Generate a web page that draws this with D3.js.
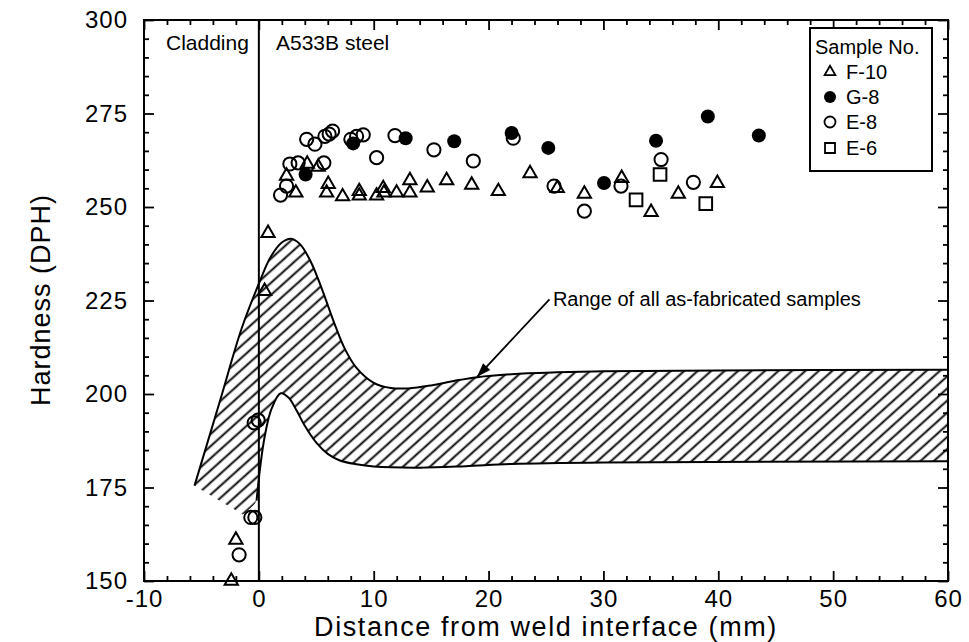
<!DOCTYPE html>
<html><head><meta charset="utf-8">
<script src="https://cdn.jsdelivr.net/npm/d3@7"></script>
<style>
html,body{margin:0;padding:0;background:#fff;}
svg{display:block;font-family:"Liberation Sans",Arial,Helvetica,sans-serif;}
</style></head>
<body>
<svg id="chart" width="969" height="642"></svg>
<script>
// ---------- data ----------
const xTicks = [-10, 0, 10, 20, 30, 40, 50, 60];
const yTicks = [150, 175, 200, 225, 250, 275, 300];

const seriesNames = ["F-10", "G-8", "E-8", "E-6"];

const f10X = [-2.4, -2.0, 0.5, 0.8, 2.41, 3.22, 4.21, 5.17, 6.04, 5.90, 7.29, 8.74, 8.74, 10.25, 10.83, 10.89, 11.99, 13.15, 13.15, 14.66, 16.35, 18.53, 20.85, 23.61, 25.98, 28.34, 31.59, 34.15, 36.52, 39.92];
const f10Y = [150, 161, 227.5, 243, 258.3, 253.8, 261.5, 260.7, 256.1, 253.8, 252.8, 254.2, 253.0, 253.0, 255.0, 253.8, 253.8, 257.1, 253.8, 255.2, 257.1, 255.9, 254.2, 259.0, 255.0, 253.5, 257.7, 248.6, 253.5, 256.4];

const g8X = [4.07, 8.21, 12.78, 17.01, 22.01, 25.20, 30.05, 34.58, 39.09, 43.53];
const g8Y = [258.7, 267.0, 268.4, 267.6, 269.8, 265.8, 256.4, 267.7, 274.2, 269.1];

const e8X = [-1.72, -0.70, -0.35, -0.41, -0.06, 1.89, 2.41, 2.70, 3.42, 4.16, 4.88, 5.66, 5.75, 6.12, 6.42, 8.01, 8.51, 9.09, 10.25, 11.85, 15.24, 18.67, 22.15, 25.70, 28.34, 31.53, 35.02, 37.83];
const e8Y = [157, 167.0, 167.0, 192.3, 193.0, 253.2, 255.6, 261.5, 261.8, 268.1, 266.8, 261.8, 268.9, 269.5, 270.3, 268.1, 268.9, 269.3, 263.2, 269.1, 265.3, 262.3, 268.4, 255.6, 248.9, 255.6, 262.7, 256.6];

const e6X = [32.84, 34.93, 38.91];
const e6Y = [251.9, 258.7, 250.9];

// range band of as-fabricated samples
const bandUpperX = [-5.6, -3.4, -1.5, 0, 1, 2, 2.8, 3.6, 4.5, 5.5, 6.5, 7.5, 8.5, 10, 11.5, 13, 15, 17, 19, 22, 26, 30, 40, 60];
const bandUpperY = [175.5, 198, 217.5, 229.5, 236.5, 240.5, 241.5, 240, 235.5, 228, 219.5, 212, 207, 203, 201.6, 201.5, 202.3, 203.5, 204.5, 205.3, 205.8, 206.1, 206.3, 206.5];
const bandLowerX = [-1.4, -0.2, 0.1, 0.5, 1.1, 1.9, 2.6, 3.3, 4, 5, 6, 7, 8.5, 10, 14, 18, 22, 30, 60];
const bandLowerY = [167.8, 171.5, 180, 188.5, 196, 200.2, 199, 195.5, 191.5, 187, 184, 182.3, 181.2, 180.6, 180.3, 180.7, 181.3, 181.7, 182];

// ---------- layout ----------
const svg = d3.select("#chart");
const L = 144, R = 948, T = 20, B = 581;
const x = d3.scaleLinear().domain([-10, 60]).range([L, R]);
const y = d3.scaleLinear().domain([150, 300]).range([B, T]);

const xMinor = d3.range(-10, 61, 2).filter(v => v % 10 !== 0);
const yMinor = d3.range(150, 301, 5).filter(v => v % 25 !== 0);
const fmt = d => String(d);

// hatch pattern
const defs = svg.append("defs");
const pat = defs.append("pattern").attr("id", "hatch").attr("patternUnits", "userSpaceOnUse")
  .attr("width", 9).attr("height", 9).attr("patternTransform", "rotate(-42)");
pat.append("line").attr("x1", 0).attr("x2", 9).attr("y1", 4.5).attr("y2", 4.5)
  .attr("stroke", "#000").attr("stroke-width", 1.9);

// band
const upperPts = bandUpperX.map((v, i) => [x(v), y(bandUpperY[i])]);
const lowerPts = bandLowerX.map((v, i) => [x(v), y(bandLowerY[i])]);
const smooth = d3.line().curve(d3.curveCatmullRom.alpha(0.5));
const upperPath = smooth(upperPts);
const lowerRevPath = smooth(lowerPts.slice().reverse());
const fillPath = upperPath + "L" + lowerRevPath.slice(1) + "Z";
svg.append("path").attr("d", fillPath).attr("fill", "url(#hatch)").attr("stroke", "none");
svg.append("path").attr("d", upperPath).attr("fill", "none").attr("stroke", "#000").attr("stroke-width", 2);
svg.append("path").attr("d", smooth(lowerPts.slice(1))).attr("fill", "none").attr("stroke", "#000").attr("stroke-width", 2);

// vertical weld interface line
svg.append("line").attr("x1", x(0)).attr("x2", x(0)).attr("y1", T).attr("y2", B)
  .attr("stroke", "#000").attr("stroke-width", 2);

// axes
function styleAxis(g) {
  g.select(".domain").remove();
  g.selectAll(".tick line").attr("stroke", "#000").attr("stroke-width", 1.8);
}
const tickFont = 24;
function styleLabels(g) {
  g.selectAll("text").attr("font-size", tickFont).attr("fill", "#000")
    .attr("letter-spacing", "1px").attr("font-family", "Liberation Sans, Arial, sans-serif");
}
svg.append("g").attr("transform", `translate(0,${B})`)
  .call(d3.axisBottom(x).tickValues(xTicks).tickSizeInner(-10).tickSizeOuter(0).tickPadding(9).tickFormat(fmt))
  .call(styleAxis).call(styleLabels);
svg.append("g").attr("transform", `translate(0,${B})`)
  .call(d3.axisBottom(x).tickValues(xMinor).tickSizeInner(-5).tickSizeOuter(0).tickFormat(""))
  .call(styleAxis);
svg.append("g").attr("transform", `translate(0,${T})`)
  .call(d3.axisTop(x).tickValues(xTicks).tickSizeInner(-10).tickSizeOuter(0).tickFormat(""))
  .call(styleAxis);
svg.append("g").attr("transform", `translate(0,${T})`)
  .call(d3.axisTop(x).tickValues(xMinor).tickSizeInner(-5).tickSizeOuter(0).tickFormat(""))
  .call(styleAxis);
svg.append("g").attr("transform", `translate(${L},0)`)
  .call(d3.axisLeft(y).tickValues(yTicks).tickSizeInner(-10).tickSizeOuter(0).tickPadding(16).tickFormat(fmt))
  .call(styleAxis).call(styleLabels);
svg.append("g").attr("transform", `translate(${L},0)`)
  .call(d3.axisLeft(y).tickValues(yMinor).tickSizeInner(-5).tickSizeOuter(0).tickFormat(""))
  .call(styleAxis);
svg.append("g").attr("transform", `translate(${R},0)`)
  .call(d3.axisRight(y).tickValues(yTicks).tickSizeInner(-10).tickSizeOuter(0).tickFormat(""))
  .call(styleAxis);
svg.append("g").attr("transform", `translate(${R},0)`)
  .call(d3.axisRight(y).tickValues(yMinor).tickSizeInner(-5).tickSizeOuter(0).tickFormat(""))
  .call(styleAxis);

// frame
svg.append("rect").attr("x", L).attr("y", T).attr("width", R - L).attr("height", B - T)
  .attr("fill", "none").attr("stroke", "#000").attr("stroke-width", 2);

// markers
const triSym = d3.symbol().type(d3.symbolTriangle).size(76);
const sqSym = d3.symbol().type(d3.symbolSquare).size(160);
const mk = svg.append("g");
mk.selectAll(".f10").data(f10X.map((v, i) => [v, f10Y[i]])).join("path")
  .attr("d", triSym).attr("transform", d => `translate(${x(d[0])},${y(d[1])})`)
  .attr("fill", "none").attr("stroke", "#000").attr("stroke-width", 2);
mk.selectAll(".e8").data(e8X.map((v, i) => [v, e8Y[i]])).join("circle")
  .attr("cx", d => x(d[0])).attr("cy", d => y(d[1])).attr("r", 6.6)
  .attr("fill", "none").attr("stroke", "#000").attr("stroke-width", 2);
mk.selectAll(".e6").data(e6X.map((v, i) => [v, e6Y[i]])).join("path")
  .attr("d", sqSym).attr("transform", d => `translate(${x(d[0])},${y(d[1])})`)
  .attr("fill", "none").attr("stroke", "#000").attr("stroke-width", 2);
mk.selectAll(".g8").data(g8X.map((v, i) => [v, g8Y[i]])).join("circle")
  .attr("cx", d => x(d[0])).attr("cy", d => y(d[1])).attr("r", 7)
  .attr("fill", "#000");

// region labels
svg.append("text").attr("x", 166).attr("y", 50).attr("font-size", 21).text("Cladding");
svg.append("text").attr("x", 276).attr("y", 50).attr("font-size", 21).text("A533B steel");

// annotation
const annX = x(25.6), annY = y(225.5);
svg.append("text").attr("x", annX).attr("y", annY + 7).attr("font-size", 20).text("Range of all as-fabricated samples");
const tipX = x(19), tipY = y(204.6);
const tailX = x(25.3), tailY = y(225.3);
svg.append("line").attr("x1", tailX).attr("y1", tailY).attr("x2", tipX).attr("y2", tipY)
  .attr("stroke", "#000").attr("stroke-width", 1.8);
const ang = Math.atan2(tipY - tailY, tipX - tailX);
const ah = 14, aw = 5;
const p1 = [tipX - ah * Math.cos(ang) + aw * Math.sin(ang), tipY - ah * Math.sin(ang) - aw * Math.cos(ang)];
const p2 = [tipX - ah * Math.cos(ang) - aw * Math.sin(ang), tipY - ah * Math.sin(ang) + aw * Math.cos(ang)];
svg.append("path").attr("d", `M${tipX},${tipY}L${p1[0]},${p1[1]}L${p2[0]},${p2[1]}Z`).attr("fill", "#000");

// legend
const lg = svg.append("g");
lg.append("rect").attr("x", 810).attr("y", 28).attr("width", 122).attr("height", 143)
  .attr("fill", "#fff").attr("stroke", "#000").attr("stroke-width", 2);
lg.append("text").attr("x", 815).attr("y", 54).attr("font-size", 20).text("Sample No.");
const rowY = [72, 97, 122, 148];
const lgTri = d3.symbol().type(d3.symbolTriangle).size(50);
const lgSq = d3.symbol().type(d3.symbolSquare).size(100);
lg.append("path").attr("d", lgTri).attr("transform", `translate(830,${rowY[0]})`).attr("fill", "none").attr("stroke", "#000").attr("stroke-width", 1.8);
lg.append("circle").attr("cx", 830).attr("cy", rowY[1]).attr("r", 6).attr("fill", "#000");
lg.append("circle").attr("cx", 830).attr("cy", rowY[2]).attr("r", 5.5).attr("fill", "none").attr("stroke", "#000").attr("stroke-width", 1.8);
lg.append("path").attr("d", lgSq).attr("transform", `translate(830,${rowY[3]})`).attr("fill", "none").attr("stroke", "#000").attr("stroke-width", 1.8);
seriesNames.forEach((n, i) => {
  lg.append("text").attr("x", 846).attr("y", rowY[i] + 7).attr("font-size", 20).text(n);
});

// axis titles
svg.append("text").attr("x", 546).attr("y", 636).attr("text-anchor", "middle").attr("font-size", 27)
  .attr("letter-spacing", "1.6px").text("Distance from weld interface (mm)");
svg.append("text").attr("transform", "translate(50,300) rotate(-90)").attr("text-anchor", "middle").attr("font-size", 27)
  .attr("letter-spacing", "1px").text("Hardness (DPH)");
</script>
</body></html>
